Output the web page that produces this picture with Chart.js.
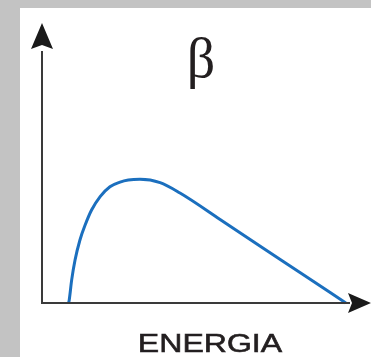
<!DOCTYPE html>
<html>
<head>
<meta charset="utf-8">
<script src="https://cdn.jsdelivr.net/npm/chart.js@4"></script>
<style>
  html, body { margin: 0; padding: 0; }
  body { background: #c3c3c3; overflow: hidden; }
  #wrap { position: absolute; left: 20px; top: 8px; right: 0; bottom: 0; min-height: 349px; background: #ffffff; }
  #spectrum { display: block; }
</style>
</head>
<body>
<div id="wrap"><canvas id="spectrum" width="351" height="349"></canvas></div>
<script>
// beta spectrum: energy (x) vs number of particles (y), arbitrary units
const energy = [8.7, 8.9, 9.7, 10.8, 12.4, 14.1, 16.2, 19.0, 22.2, 25.5, 28.2, 32.0, 38.6, 45.1, 58.2, 71.2, 84.3, 99.3];
const counts = [0, 1.2, 9.1, 16.9, 24.8, 30.7, 36.6, 41.9, 45.8, 47.6, 48.4, 48.7, 47.4, 43.3, 32.9, 22.4, 12.0, 0];
const title = 'β';
const axisLabel = 'ENERGIA';

var axesPlugin = {
    id: 'arrowAxes',
    afterDraw(chart) {
        const ctx = chart.ctx;
        const a = chart.chartArea;
        ctx.save();
        // axis lines
        ctx.strokeStyle = '#3a3a3a';
        ctx.lineWidth = 2;
        ctx.beginPath();
        ctx.moveTo(a.left, a.bottom);
        ctx.lineTo(a.left, a.top + 2);
        ctx.moveTo(a.left - 1, a.bottom);
        ctx.lineTo(a.right + 2, a.bottom);
        ctx.stroke();
        // arrow heads
        ctx.fillStyle = '#1a1a1a';
        ctx.beginPath();
        ctx.moveTo(a.left, a.top - 26);
        ctx.lineTo(a.left + 11, a.top);
        ctx.lineTo(a.left, a.top - 4);
        ctx.lineTo(a.left - 11, a.top);
        ctx.closePath();
        ctx.fill();
        ctx.beginPath();
        ctx.moveTo(a.right + 23, a.bottom);
        ctx.lineTo(a.right, a.bottom + 10);
        ctx.lineTo(a.right + 4, a.bottom);
        ctx.lineTo(a.right, a.bottom - 10);
        ctx.closePath();
        ctx.fill();
        // texts
        ctx.fillStyle = '#231f20';
        ctx.strokeStyle = '#231f20';
        ctx.textAlign = 'center';
        ctx.textBaseline = 'alphabetic';
        ctx.font = '56px "Liberation Serif"';
        ctx.fillText(title, 181, 69);
        ctx.translate(190, 344);
        ctx.scale(1.21, 1);
        ctx.font = '26.5px "Liberation Sans"';
        ctx.lineWidth = 0.6;
        ctx.fillText(axisLabel, 0, 0);
        ctx.strokeText(axisLabel, 0, 0);
        ctx.restore();
    }
};

document.addEventListener('DOMContentLoaded', () => {
    const ctx = document.getElementById('spectrum').getContext('2d');
    new Chart(ctx, {
        type: 'line',
        data: {
            datasets: [{
                data: energy.map((e, i) => ({ x: e, y: counts[i] })),
                borderColor: '#1b6fbe',
                borderWidth: 3,
                pointRadius: 0,
                fill: false,
                cubicInterpolationMode: 'monotone',
                clip: false
            }]
        },
        options: {
            animation: false,
            responsive: false,
            layout: {
                padding: { left: 22, right: 23, top: 41, bottom: 54 }
            },
            scales: {
                x: { type: 'linear', min: 0, max: 100, display: false },
                y: { type: 'linear', min: 0, max: 100, display: false }
            },
            plugins: {
                legend: { display: false },
                tooltip: { enabled: false }
            }
        },
        plugins: [axesPlugin]
    });
});
</script>
</body>
</html>
